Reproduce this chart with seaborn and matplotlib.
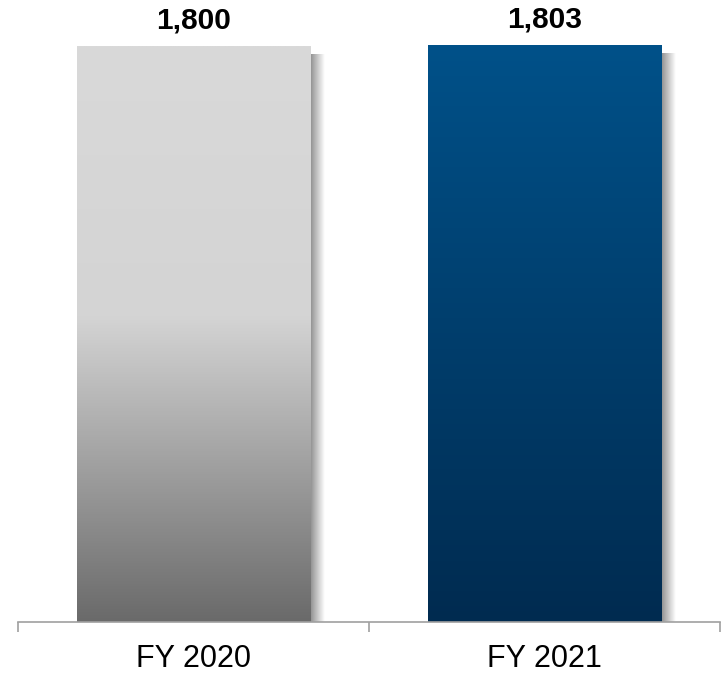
import numpy as np
import pandas as pd
import matplotlib
matplotlib.use("Agg")
import matplotlib.pyplot as plt
import seaborn as sns
from matplotlib.colors import LinearSegmentedColormap

categories = ["FY 2020", "FY 2021"]
values = [1800, 1803]
value_labels = ["1,800", "1,803"]

sns.set_theme(style="white")
plt.rcParams["font.family"] = ["Liberation Sans", "DejaVu Sans"]

df = pd.DataFrame({"year": categories, "value": values})

fig = plt.figure(figsize=(7.25, 6.78), dpi=100)
ax = fig.add_axes([18 / 725, 56 / 678, 702 / 725, 622 / 678])

sns.barplot(data=df, x="year", y="value", ax=ax, width=0.664,
            color="white", edgecolor="none", linewidth=0)

ymax = 1800 * 622 / 576
ax.set_ylim(0, ymax)
ax.set_xlim(-0.5, 1.5)

# gradient definitions (top colour -> bottom colour)
grads = [
    LinearSegmentedColormap.from_list("g", [(0, "#d9d9d9"), (0.47, "#d4d4d4"), (1, "#6a6a6a")]),
    LinearSegmentedColormap.from_list("b", [(0, "#005189"), (1, "#002b50")]),
]

for patch, cmap in zip(ax.patches, grads):
    x0 = patch.get_x()
    w = patch.get_width()
    h = patch.get_height()
    # soft shadow to the right
    sw = 0.04
    shadow = np.linspace(0.45, 0.0, 50).reshape(1, -1)
    ax.imshow(np.dstack([np.zeros((1, 50, 3)), shadow[..., None]]),
              extent=(x0 + w, x0 + w + sw, 0, h * 0.985), aspect="auto",
              zorder=1, interpolation="bicubic")
    grad = np.linspace(0, 1, 256).reshape(-1, 1)
    im = ax.imshow(grad, cmap=cmap, extent=(x0, x0 + w, 0, h), aspect="auto",
                   origin="upper", zorder=2)
    im.set_clip_path(patch)
    patch.set_zorder(2)

for i, (v, lab) in enumerate(zip(values, value_labels)):
    ax.annotate(lab, (i, v), xytext=(0, 8), textcoords="offset points",
                ha="center", va="bottom", fontsize=21.5, fontweight="bold",
                color="black")

ax.set_xlabel("")
ax.set_ylabel("")
ax.set_yticks([])
for s in ["top", "right", "left"]:
    ax.spines[s].set_visible(False)
ax.spines["bottom"].set_color("#a0a0a0")
ax.spines["bottom"].set_linewidth(1.2)

ax.set_xticks([0, 1])
ax.set_xticklabels(categories, fontsize=22)
ax.set_xticks([-0.5, 0.5, 1.5], minor=True)
ax.tick_params(axis="x", which="major", length=0, pad=16, colors="black")
ax.tick_params(axis="x", which="minor", length=7, width=1.2, color="#a0a0a0",
               direction="out", bottom=True)

fig.savefig("out.png", dpi=100)
